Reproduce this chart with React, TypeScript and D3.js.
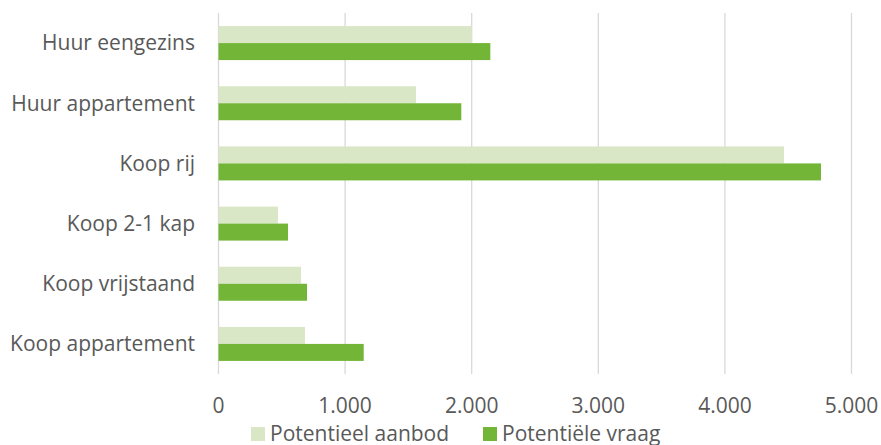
import React from "react";
import * as d3 from "d3";

const categories = ["Huur eengezins", "Huur appartement", "Koop rij", "Koop 2-1 kap", "Koop vrijstaand", "Koop appartement"];
const aanbod = [2000, 1560, 4467, 470, 652, 683];
const vraag = [2147, 1918, 4759, 549, 699, 1147];
const ticks = [0, 1000, 2000, 3000, 4000, 5000];
const seriesNames = ["Potentieel aanbod", "Potentiële vraag"];

const W = 881, H = 445;
const left = 218.5, right = 851.5, top = 13, bottom = 374;
const LIGHT = "#dae7c7";
const DARK = "#73b637";
const TEXT = "#595959";
const FONT = "'Open Sans', sans-serif";
const FS = 21;

export default function App() {
  const x = d3.scaleLinear().domain([0, 5000]).range([left, right]);
  const y = d3.scaleBand<string>().domain(categories).range([top, bottom]);
  const bw = 17;
  const fmt = (v: number) => d3.format(",")(v).replace(/,/g, ".");
  return (
    <svg width={W} height={H} style={{ position: "absolute", left: 0, top: 0, background: "#fff" }}>
      {ticks.map((t) => (
        <line key={t} x1={x(t)} x2={x(t)} y1={top} y2={bottom} stroke="#d9d9d9" strokeWidth={1.3} />
      ))}
      {categories.map((c, i) => {
        const cy = (y(c) as number) + y.bandwidth() / 2;
        return (
          <g key={c}>
            <rect x={x(0)} y={cy - bw} width={x(aanbod[i]) - x(0)} height={bw} fill={LIGHT} />
            <rect x={x(0)} y={cy} width={x(vraag[i]) - x(0)} height={bw} fill={DARK} />
            <text x={195} y={cy} dy="0.35em" textAnchor="end" fontFamily={FONT} fontSize={FS} fill={TEXT}>{c}</text>
          </g>
        );
      })}
      {ticks.map((t) => (
        <text key={t} x={x(t)} y={413} textAnchor="middle" fontFamily={FONT} fontSize={FS} fill={TEXT}>{fmt(t)}</text>
      ))}
      <rect x={251} y={427} width={14} height={14} fill={LIGHT} />
      <text x={270} y={441} fontFamily={FONT} fontSize={FS} fill={TEXT}>{seriesNames[0]}</text>
      <rect x={483} y={427} width={14} height={14} fill={DARK} />
      <text x={502} y={441} fontFamily={FONT} fontSize={FS} fill={TEXT}>{seriesNames[1]}</text>
    </svg>
  );
}
